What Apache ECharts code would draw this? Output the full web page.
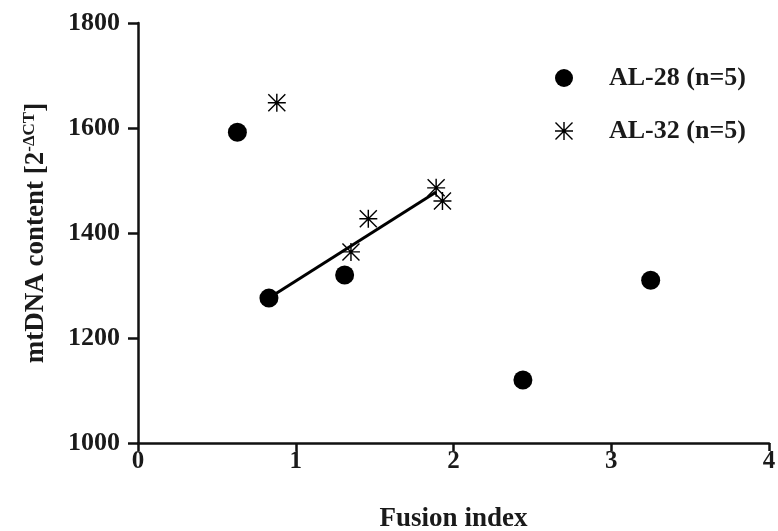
<!DOCTYPE html>
<html>
<head>
<meta charset="utf-8">
<script src="https://cdn.jsdelivr.net/npm/echarts@6/dist/echarts.min.js"></script>
<style>
  html, body { margin: 0; padding: 0; background: #fff; }
  #chart { width: 778px; height: 531px; }
</style>
</head>
<body>
<div id="chart"></div>
<script>
// data
const al28X = [0.63, 0.83, 1.31, 2.44, 3.25];
const al28Y = [1592, 1276, 1320, 1120, 1310];
const al32X = [0.88, 1.35, 1.46, 1.89, 1.93];
const al32Y = [1648, 1364, 1427, 1486, 1461];
const fitX = [0.83, 1.89];
const fitY = [1276, 1478];
const xTicks = [0, 1, 2, 3, 4];
const yTicks = [1000, 1200, 1400, 1600, 1800];

const FONT = '"Liberation Serif", "Times New Roman", serif';
const STAR = 'path://M9.2 0H10.8V20H9.2Z M0 9.2H20V10.8H0Z M1.1 0L20 18.9L18.9 20L0 1.1Z M18.9 0L20 1.1L1.1 20L0 18.9Z';

const pairs = (xs, ys) => xs.map((x, i) => [x, ys[i]]);

let chart;

const getOption = () => {
  return {
    animation: false,
    backgroundColor: '#fff',
    grid: { left: 138, right: 9, top: 23, bottom: 88, containLabel: false, outerBoundsMode: 'none' },
    legend: {
      data: [
        { name: 'AL-28 (n=5)', icon: 'circle' },
        { name: 'AL-32 (n=5)', icon: STAR }
      ],
      orient: 'vertical',
      left: 550,
      top: 60,
      itemWidth: 20,
      itemHeight: 18,
      itemGap: 27,
      textStyle: {
        fontFamily: FONT, fontWeight: 'bold', fontSize: 26, color: '#1a1a1a',
        padding: [0, 0, 0, 30]
      }
    },
    xAxis: {
      type: 'value',
      min: xTicks[0],
      max: xTicks[xTicks.length - 1],
      interval: 1,
      name: 'Fusion index',
      nameLocation: 'middle',
      nameGap: 63,
      nameTextStyle: { fontFamily: FONT, fontWeight: 'bold', fontSize: 27, color: '#1a1a1a' },
      axisLine: { lineStyle: { color: '#111', width: 2.5 } },
      axisTick: { length: 8, lineStyle: { color: '#111', width: 2.5 } },
      axisLabel: {
        fontFamily: FONT, fontWeight: 'bold', fontSize: 25, color: '#1a1a1a', margin: 6,
        formatter: (v) => String(v)
      },
      splitLine: { show: false }
    },
    yAxis: {
      type: 'value',
      min: yTicks[0],
      max: yTicks[yTicks.length - 1],
      interval: 200,
      name: '{t|mtDNA content [2}{s|-ΔCT}{t|]}',
      nameLocation: 'middle',
      nameRotate: 90,
      nameGap: 86,
      nameTextStyle: {
        rich: {
          t: { fontFamily: FONT, fontWeight: 'bold', fontSize: 27, color: '#1a1a1a' },
          s: { fontFamily: FONT, fontWeight: 'bold', fontSize: 17, color: '#1a1a1a', padding: [0, 0, 14, 0] }
        }
      },
      axisLine: { lineStyle: { color: '#111', width: 2.5 } },
      axisTick: { length: 10, lineStyle: { color: '#111', width: 2.5 } },
      axisLabel: {
        fontFamily: FONT, fontWeight: 'bold', fontSize: 26, color: '#1a1a1a', margin: 18,
        formatter: (v) => String(v)
      },
      splitLine: { show: false }
    },
    series: [
      {
        name: 'fit',
        type: 'line',
        data: pairs(fitX, fitY),
        symbol: 'none',
        lineStyle: { color: '#000', width: 3 },
        z: 1
      },
      {
        name: 'AL-28 (n=5)',
        type: 'scatter',
        data: pairs(al28X, al28Y),
        symbol: 'circle',
        symbolSize: 19,
        itemStyle: { color: '#000', opacity: 1 },
        z: 3
      },
      {
        name: 'AL-32 (n=5)',
        type: 'scatter',
        data: pairs(al32X, al32Y),
        symbol: STAR,
        symbolSize: 18,
        itemStyle: { color: '#000', opacity: 1 },
        z: 3
      }
    ]
  };
};

window.addEventListener('load', () => {
  chart = echarts.init(document.getElementById('chart'));
  chart.setOption(getOption());
});
</script>
</body>
</html>
